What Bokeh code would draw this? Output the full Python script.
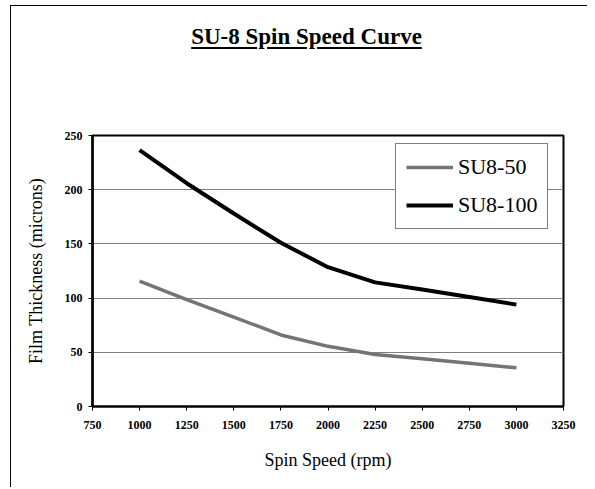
from bokeh.plotting import figure
from bokeh.models import FixedTicker, Legend, LegendItem, Range1d, Div
from bokeh.layouts import column
from bokeh.embed import file_html
from bokeh.resources import INLINE

# ---- data ----
title_text = "SU-8 Spin Speed Curve"
x_label = "Spin Speed (rpm)"
y_label = "Film Thickness (microns)"
speeds = [1000, 1250, 1500, 1750, 2000, 2250, 2500, 2750, 3000]
su8_50 = [115.6, 98.5, 82.5, 66.0, 55.5, 48.0, 44.0, 40.0, 35.7]
su8_100 = [236.5, 206.0, 178.0, 151.0, 128.5, 114.5, 108.0, 101.0, 94.0]
x_ticks = [750, 1000, 1250, 1500, 1750, 2000, 2250, 2500, 2750, 3000, 3250]
y_ticks = [0, 50, 100, 150, 200, 250]
series_names = ["SU8-50", "SU8-100"]

FONT = "Liberation Serif"

title_div = Div(
    text=('<div style="width:559px;margin-left:16px;margin-top:18px;text-align:center;'
          'font-family:\'Liberation Serif\',serif;font-size:23px;font-weight:bold;'
          'color:#000;line-height:26px;text-decoration:underline;'
          'text-decoration-thickness:1.5px;text-underline-offset:3px;">'
          + title_text + '</div>'),
    width=575, height=45, margin=0)

p = figure(width=576, height=436, output_backend="svg", toolbar_location=None,
           x_range=Range1d(750, 3250), y_range=Range1d(0, 250),
           min_border_left=81, min_border_right=24, min_border_top=84,
           min_border_bottom=81, margin=0)

p.background_fill_color = "white"
p.border_fill_color = "white"
p.outline_line_color = "black"
p.outline_line_width = 2

p.xgrid.grid_line_color = None
p.ygrid.grid_line_color = "#808080"
p.ygrid.grid_line_width = 1

p.xaxis.ticker = FixedTicker(ticks=x_ticks)
p.yaxis.ticker = FixedTicker(ticks=y_ticks)
for ax in (p.xaxis[0], p.yaxis[0]):
    ax.axis_line_color = "black"
    ax.major_tick_line_color = "black"
    ax.major_tick_out = 4
    ax.major_tick_in = 0
    ax.minor_tick_line_color = None
    ax.major_label_text_font = FONT
    ax.major_label_text_font_style = "bold"
    ax.major_label_text_font_size = "12px"
    ax.major_label_text_color = "black"
    ax.axis_label_text_font = FONT
    ax.axis_label_text_font_style = "normal"
    ax.axis_label_text_font_size = "18px"
    ax.axis_label_text_color = "black"
p.xaxis.axis_line_width = 2
p.yaxis.axis_line_width = 2.5
p.xaxis.major_label_standoff = 10
p.yaxis.major_label_standoff = 6
p.xaxis.axis_label = x_label
p.yaxis.axis_label = y_label
p.xaxis.axis_label_standoff = 18
p.yaxis.axis_label_standoff = 16

r50 = p.line(speeds, su8_50, line_color="#747474", line_width=3.5)
r100 = p.line(speeds, su8_100, line_color="black", line_width=4)

legend = Legend(items=[LegendItem(label=series_names[0], renderers=[r50]),
                       LegendItem(label=series_names[1], renderers=[r100])],
                location=(303, 177), margin=0, padding=10, spacing=12,
                glyph_width=47, glyph_height=26, label_standoff=5,
                label_text_font=FONT, label_text_font_size="22px",
                label_text_color="black",
                border_line_color="black", border_line_width=1.5,
                background_fill_color="white", background_fill_alpha=1)
p.add_layout(legend)

layout = column(title_div, p, spacing=0, margin=0)
layout.styles = {"border-left": "1px solid #000", "border-top": "1px solid #000",
                 "margin-left": "10px", "margin-top": "5px"}

open("out.html", "w").write(file_html(layout, INLINE))
